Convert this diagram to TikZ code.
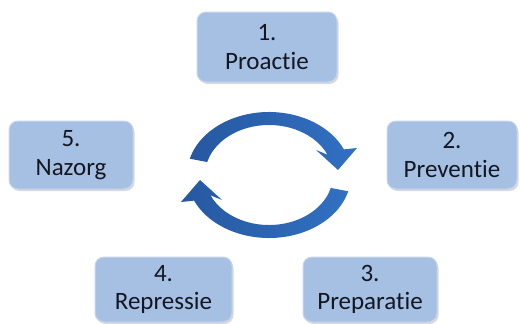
\documentclass[tikz,border=0pt]{standalone}
\usepackage{fontspec}
\setmainfont{Carlito}[Ligatures=NoCommon]
\usetikzlibrary{shadows}
\definecolor{fasefill}{RGB}{166,192,228}
\definecolor{faserand}{RGB}{198,214,237}
\definecolor{fasetekst}{RGB}{20,22,32}
\definecolor{pijldonker}{RGB}{38,88,160}
\definecolor{pijlmidden}{RGB}{185,208,238}
\definecolor{pijlrechts}{RGB}{50,112,195}
\tikzset{
	fase/.style={draw=faserand, line width=1pt, fill=fasefill, rounded corners=9pt,
		align=center, text=fasetekst, inner sep=0pt,
		font=\fontsize{25}{28.5}\selectfont,
		drop shadow={shadow xshift=1.5pt, shadow yshift=-2pt, opacity=0.3}},
	pijl/.style={left color=pijldonker, middle color=pijlmidden, right color=pijlrechts, draw=none}
}
\newcommand{\ringpijl}{%
	\path[pijl] (165:82 and 63) arc[start angle=165, end angle=24, x radius=82, y radius=63]
		-- (88,27) -- (69,5) -- (47,25)
		-- (24:64 and 50) arc[start angle=24, end angle=165, x radius=64, y radius=50] -- cycle;}

\begin{document}
\begin{tikzpicture}[x=1pt, y=-1pt]
		%%%%% START %%%%%
		\useasboundingbox (0,0) rectangle (520,324);
		
		\node[fase, minimum width=140pt, minimum height=70pt] (proactie) at (267,47) {1.\\Proactie};
		\node[fase, minimum width=130pt, minimum height=68pt] (preventie) at (452,155) {2.\\Preventie};
		\node[fase, minimum width=134pt, minimum height=65pt] (preparatie) at (370,289.5) {3.\\Preparatie};
		\node[fase, minimum width=137pt, minimum height=65pt] (repressie) at (163.5,289.5) {4.\\Repressie};
		\node[fase, minimum width=124pt, minimum height=68pt] (nazorg) at (71,155) {5.\\Nazorg};
		
		% cirkel van twee pijlen
		\begin{scope}[shift={(269,175)}, yscale=-1]
			\ringpijl
			\begin{scope}[rotate=180]
				\ringpijl
			\end{scope}
		\end{scope}
		
		%%%%% END %%%%%
	\end{tikzpicture}
\end{document}
